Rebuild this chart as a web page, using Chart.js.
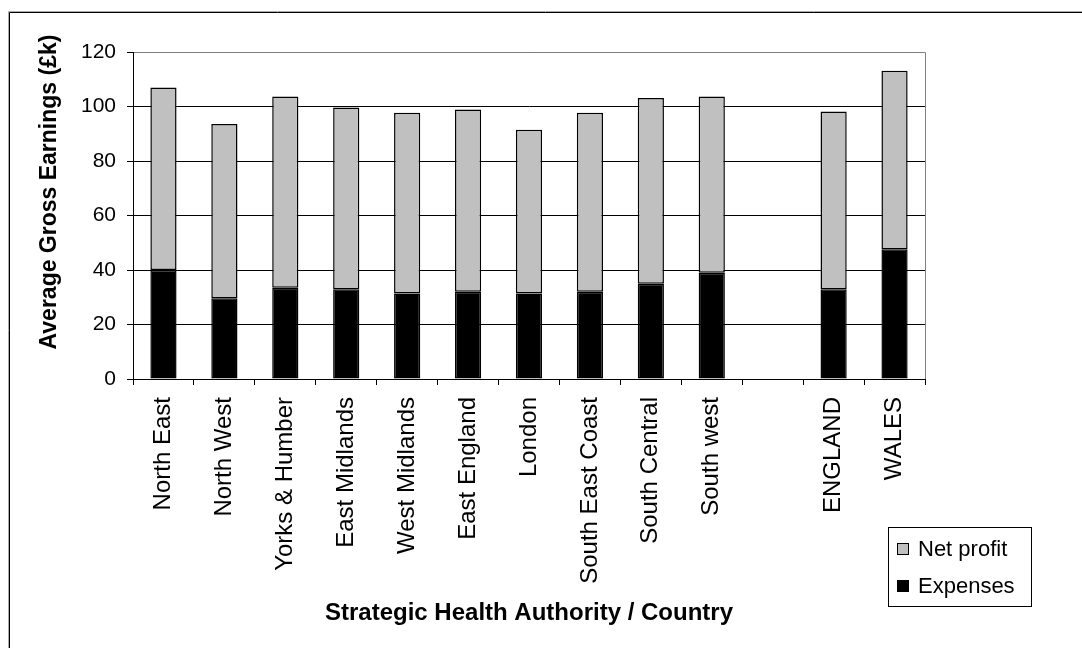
<!DOCTYPE html>
<html><head><meta charset="utf-8">
<script src="https://cdn.jsdelivr.net/npm/chart.js@4.4.1/dist/chart.umd.min.js"></script>
<style>html,body{margin:0;padding:0;background:#fff;}canvas{display:block;}</style>
</head><body>
<canvas id="c" width="1082" height="648"></canvas>
<script>
const categories = ['North East','North West','Yorks & Humber','East Midlands','West Midlands','East England','London','South East Coast','South Central','South west','','ENGLAND','WALES'];
const expenses  = [40.0, 29.6, 33.5, 32.9, 31.4, 32.0, 31.4, 32.0, 35.0, 39.0, null, 32.9, 47.6];
const netProfit = [67.0, 64.0, 70.2, 66.7, 66.3, 66.9, 60.1, 65.7, 68.1, 64.7, null, 65.3, 65.5];
const yTicks = [0, 20, 40, 60, 80, 100, 120];
const yTitle = 'Average Gross Earnings (£k)';
const xTitle = 'Strategic Health Authority / Country';
const FONT = "'Liberation Sans', Arial, sans-serif";

const decor = {
  id: 'decor',
  afterDraw(chart) {
    const ctx = chart.ctx, a = chart.chartArea;
    ctx.save();
    ctx.lineWidth = 1;
    // outer frame
    ctx.strokeStyle = '#aaa';
    ctx.beginPath(); ctx.moveTo(8.5, 648); ctx.lineTo(8.5, 11.5); ctx.lineTo(1082, 11.5); ctx.stroke();
    ctx.strokeStyle = '#000';
    ctx.beginPath(); ctx.moveTo(9.5, 648); ctx.lineTo(9.5, 12.5); ctx.lineTo(1082, 12.5); ctx.stroke();
    // plot area top & right border
    ctx.strokeStyle = '#808080';
    ctx.beginPath(); ctx.moveTo(a.left + 1, Math.round(a.top) + 0.5); ctx.lineTo(Math.round(a.right) + 0.5, Math.round(a.top) + 0.5);
    ctx.lineTo(Math.round(a.right) + 0.5, a.bottom); ctx.stroke();
    // y-axis title
    ctx.fillStyle = '#000';
    ctx.font = 'bold 23px ' + FONT;
    ctx.textAlign = 'center'; ctx.textBaseline = 'middle';
    ctx.translate(50, 192); ctx.rotate(-Math.PI / 2);
    ctx.fillText(yTitle, 0, 0);
    ctx.setTransform(1, 0, 0, 1, 0, 0);
    // legend
    ctx.strokeStyle = '#000';
    ctx.strokeRect(888.5, 527.5, 143, 79);
    const ds = chart.data.datasets.slice().reverse();
    ctx.font = '22px ' + FONT;
    ctx.textAlign = 'left'; ctx.textBaseline = 'alphabetic';
    ds.forEach((d, i) => {
      const y = 543 + i * 37;
      ctx.fillStyle = d.backgroundColor;
      ctx.fillRect(897.5, y + 0.5, 11, 11);
      ctx.strokeStyle = '#000';
      ctx.strokeRect(897.5, y + 0.5, 11, 11);
      ctx.fillStyle = '#000';
      ctx.fillText(d.label, 918, y + 13);
    });
    ctx.restore();
  }
};

new Chart(document.getElementById('c'), {
  type: 'bar',
  data: {
    labels: categories,
    datasets: [
      { label: 'Expenses', data: expenses, backgroundColor: '#000000', borderColor: '#000', borderWidth: 1.5, borderSkipped: false },
      { label: 'Net profit', data: netProfit, backgroundColor: '#c0c0c0', borderColor: '#000', borderWidth: 1.5, borderSkipped: false }
    ]
  },
  options: {
    responsive: false,
    animation: false,
    layout: { padding: { top: 52, right: 157, left: 0, bottom: 0 } },
    datasets: { bar: { barPercentage: 0.43, categoryPercentage: 1 } },
    plugins: { legend: { display: false }, tooltip: { enabled: false } },
    scales: {
      x: {
        stacked: true,
        offset: true,
        grid: { display: true, drawOnChartArea: false, drawTicks: true, tickLength: 6, color: '#000', offset: true },
        border: { color: '#000', width: 1 },
        ticks: { autoSkip: false, minRotation: 90, maxRotation: 90, padding: 12, color: '#000', font: { family: FONT, size: 24 } },
        title: { display: true, text: xTitle, color: '#000', font: { family: FONT, size: 24, weight: 'bold' }, padding: { top: 0, bottom: 20 } },
        afterFit(s) { s.height = 269; }
      },
      y: {
        stacked: true,
        min: 0, max: 120,
        afterBuildTicks(s) { s.ticks = yTicks.map(v => ({ value: v })); },
        ticks: { padding: 11, color: '#000', font: { family: FONT, size: 21 } },
        grid: { color: '#000', tickLength: 6 },
        border: { color: '#000', width: 1 },
        afterFit(s) { s.width = 133; }
      }
    }
  },
  plugins: [decor]
});
</script>
</body></html>
